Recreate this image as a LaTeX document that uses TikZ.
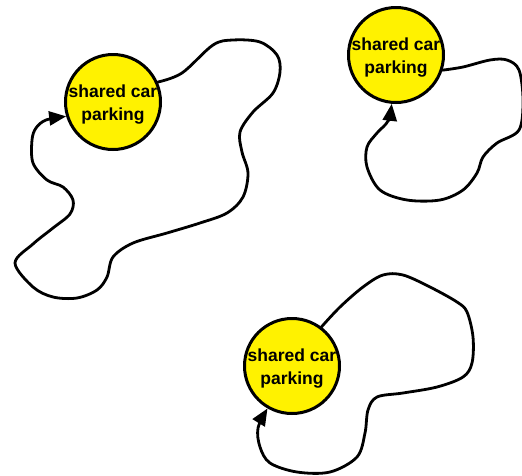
\documentclass[tikz,border=0pt]{standalone}
\usepackage{fontspec}
\setmainfont{Liberation Sans}
\usetikzlibrary{arrows.meta}
\tikzset{
  park/.style={circle, draw=black, fill=yellow, line width=3pt, minimum size=95pt, inner sep=0pt,
    label={[font=\fontsize{17.5}{22.5}\selectfont\bfseries, align=center, yshift=-2.5pt]center:shared car\\parking}},
  tour/.style={line width=2.8pt, line join=round, line cap=round, -{Triangle[length=17pt,width=14pt]}}
}
\begin{document}
\begin{tikzpicture}[x=1pt,y=-1pt]
\useasboundingbox (0,0) rectangle (522,475);
\node[park] (c1) at (113,102) {};
\node[park] (c2) at (396,55) {};
\node[park] (c3) at (292,366) {};
\draw[tour] plot[smooth, tension=0.55] coordinates {
 (c1.24) (182,73) (213,45) (233,40) (260,42) (277,55) (280,72) (273,93) (253,112)
 (240,132) (242,152) (248,173) (243,197) (227,213) (200,223) (167,233) (133,243)
 (113,257) (107,277) (97,290) (77,298) (53,297) (33,287) (15,263) (33,244)
 (53,228) (70,214) (73,200) (63,187) (47,180) (33,163) (32,140) (36,128) (46,120) (c1.197)};
\draw[tour] plot[smooth, tension=0.55] coordinates {
 (c2.342) (463,67) (490,60) (507,60) (519,70) (523,100) (519,130) (497,143)
 (483,157) (477,173) (463,190) (440,200) (407,200) (380,190) (367,167) (367,147)
 (377,133) (388,121) (c2.265)};
\draw[tour] plot[smooth, tension=0.55] coordinates {
 (c3.53) (340,307) (363,287) (383,275) (403,275) (430,287) (457,302) (467,312)
 (473,337) (472,363) (463,377) (437,387) (403,393) (377,397) (368,410) (365,433)
 (357,457) (330,472) (297,472) (270,463) (260,447) (258,428) (c3.240)};
\end{tikzpicture}
\end{document}
